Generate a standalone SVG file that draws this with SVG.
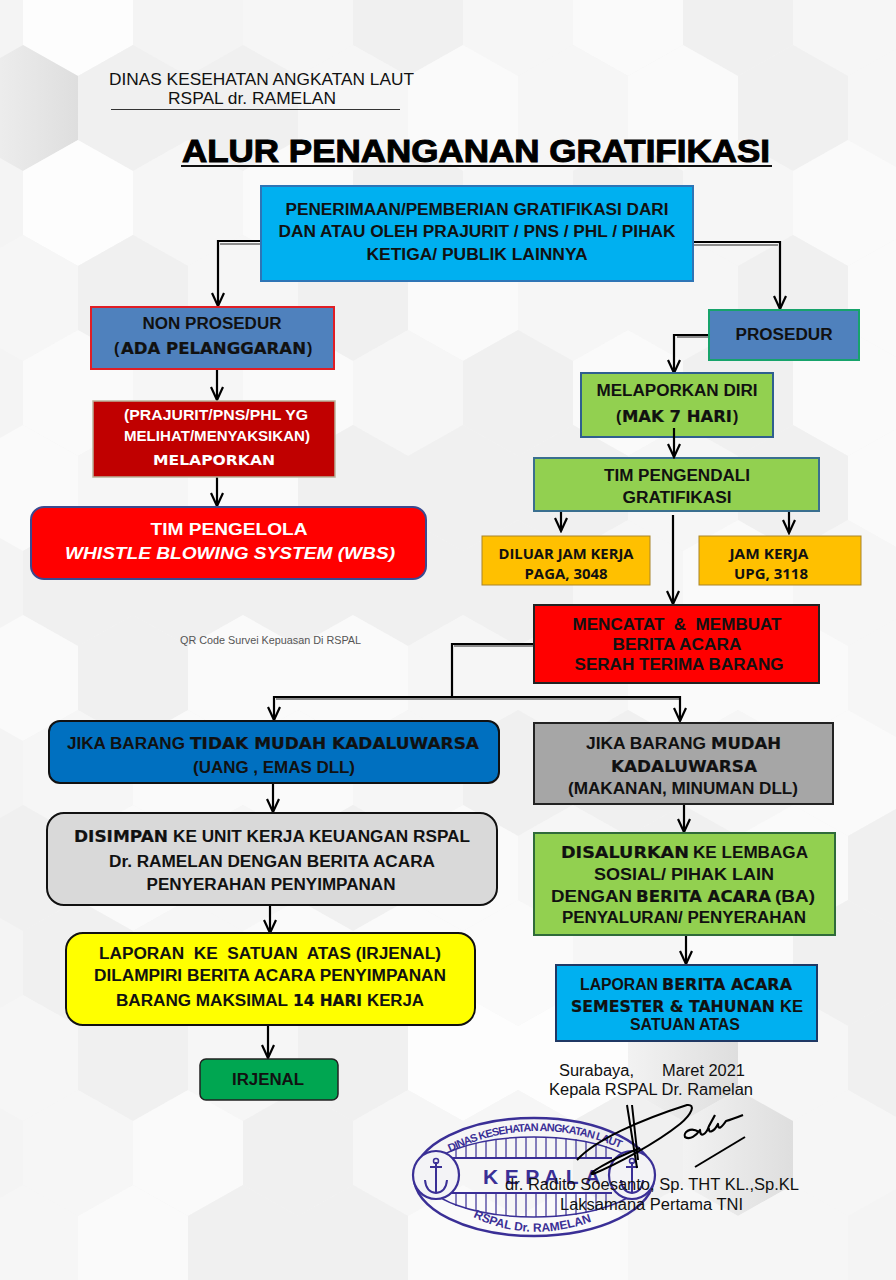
<svg xmlns="http://www.w3.org/2000/svg" width="896" height="1280" viewBox="0 0 896 1280">
<defs>
<linearGradient id="hd" x1="0" y1="0" x2="1" y2="0"><stop offset="0" stop-color="#f2f2f2"/><stop offset="1" stop-color="#dedede"/></linearGradient>
<polygon id="hex" points="0,-63 55,-32 55,32 0,63 -55,32 -55,-32"/>
<marker id="ah" markerUnits="userSpaceOnUse" markerWidth="16" markerHeight="14" refX="14" refY="7" orient="auto"><path d="M1,1 L14,7 L1,13" fill="none" stroke="#000" stroke-width="2.200"/></marker>
</defs>
<style>
text{font-family:"Liberation Sans",Arial,sans-serif;fill:#111}
.b{font-weight:700;font-size:16px;text-anchor:middle}
.bs{font-weight:700;font-size:16px}
.x{font-family:"DejaVu Sans",sans-serif;font-weight:700;font-size:15px;stroke:#111;stroke-width:.2px}
.c{font-family:"Open Sans","Noto Sans",sans-serif;font-weight:700;font-size:15px;text-anchor:middle}
.n{font-size:16px}
.l{fill:none;stroke:#000;stroke-width:2.200}
.s{fill:none;stroke:#8c8c8c;stroke-width:2}
.st{fill:none;stroke:#3a2f96}
.stx{fill:#3a2f96;font-weight:700;font-size:11px}
.a{fill:#fafafa}.p{fill:#f6f6f6}.d{fill:#f0f0f0}.e{fill:url(#hd)}
.w{fill:#fdfdfd}
</style>
<rect width="896" height="1280" fill="#f4f4f4"/>
<g id="background">
<use href="#hex" x="78" y="13" class="w"/><use href="#hex" x="298" y="13" class="p"/><use href="#hex" x="408" y="13" class="d"/><use href="#hex" x="518" y="13" class="p"/><use href="#hex" x="628" y="13" class="a"/><use href="#hex" x="738" y="13" class="d"/><use href="#hex" x="848" y="13" class="p"/>
<use href="#hex" x="23" y="108" class="e"/><use href="#hex" x="133" y="108" class="d"/><use href="#hex" x="243" y="108" class="d"/><use href="#hex" x="353" y="108" class="p"/><use href="#hex" x="463" y="108" class="a"/><use href="#hex" x="573" y="108" class="p"/><use href="#hex" x="683" y="108" class="a"/><use href="#hex" x="793" y="108" class="d"/><use href="#hex" x="903" y="108" class="p"/>
<use href="#hex" x="78" y="203" class="w"/><use href="#hex" x="188" y="203" class="p"/><use href="#hex" x="298" y="203" class="a"/><use href="#hex" x="408" y="203" class="d"/><use href="#hex" x="518" y="203" class="p"/><use href="#hex" x="628" y="203" class="d"/><use href="#hex" x="738" y="203" class="p"/><use href="#hex" x="848" y="203" class="a"/>
<use href="#hex" x="23" y="298" class="p"/><use href="#hex" x="133" y="298" class="d"/><use href="#hex" x="243" y="298" class="p"/><use href="#hex" x="353" y="298" class="d"/><use href="#hex" x="463" y="298" class="a"/><use href="#hex" x="573" y="298" class="p"/><use href="#hex" x="683" y="298" class="p"/><use href="#hex" x="793" y="298" class="d"/><use href="#hex" x="903" y="298" class="a"/>
<use href="#hex" x="78" y="393" class="a"/><use href="#hex" x="188" y="393" class="p"/><use href="#hex" x="298" y="393" class="a"/><use href="#hex" x="408" y="393" class="p"/><use href="#hex" x="518" y="393" class="d"/><use href="#hex" x="628" y="393" class="a"/><use href="#hex" x="738" y="393" class="d"/><use href="#hex" x="848" y="393" class="a"/>
<use href="#hex" x="23" y="488" class="a"/><use href="#hex" x="133" y="488" class="p"/><use href="#hex" x="243" y="488" class="a"/><use href="#hex" x="353" y="488" class="d"/><use href="#hex" x="463" y="488" class="d"/><use href="#hex" x="573" y="488" class="d"/><use href="#hex" x="683" y="488" class="p"/><use href="#hex" x="793" y="488" class="d"/><use href="#hex" x="903" y="488" class="a"/>
<use href="#hex" x="78" y="583" class="d"/><use href="#hex" x="188" y="583" class="d"/><use href="#hex" x="298" y="583" class="d"/><use href="#hex" x="408" y="583" class="d"/><use href="#hex" x="518" y="583" class="d"/><use href="#hex" x="628" y="583" class="p"/><use href="#hex" x="738" y="583" class="a"/><use href="#hex" x="848" y="583" class="p"/>
<use href="#hex" x="23" y="678" class="a"/><use href="#hex" x="133" y="678" class="d"/><use href="#hex" x="243" y="678" class="a"/><use href="#hex" x="353" y="678" class="a"/><use href="#hex" x="463" y="678" class="p"/><use href="#hex" x="573" y="678" class="p"/><use href="#hex" x="683" y="678" class="a"/><use href="#hex" x="793" y="678" class="a"/><use href="#hex" x="903" y="678" class="p"/>
<use href="#hex" x="78" y="773" class="p"/><use href="#hex" x="188" y="773" class="a"/><use href="#hex" x="298" y="773" class="a"/><use href="#hex" x="408" y="773" class="p"/><use href="#hex" x="518" y="773" class="d"/><use href="#hex" x="628" y="773" class="d"/><use href="#hex" x="738" y="773" class="p"/><use href="#hex" x="848" y="773" class="a"/>
<use href="#hex" x="23" y="868" class="d"/><use href="#hex" x="133" y="868" class="a"/><use href="#hex" x="243" y="868" class="p"/><use href="#hex" x="353" y="868" class="d"/><use href="#hex" x="463" y="868" class="a"/><use href="#hex" x="573" y="868" class="p"/><use href="#hex" x="683" y="868" class="d"/><use href="#hex" x="793" y="868" class="a"/><use href="#hex" x="903" y="868" class="d"/>
<use href="#hex" x="78" y="963" class="d"/><use href="#hex" x="188" y="963" class="p"/><use href="#hex" x="298" y="963" class="a"/><use href="#hex" x="408" y="963" class="a"/><use href="#hex" x="518" y="963" class="a"/><use href="#hex" x="628" y="963" class="p"/><use href="#hex" x="738" y="963" class="a"/><use href="#hex" x="848" y="963" class="d"/>
<use href="#hex" x="23" y="1058" class="p"/><use href="#hex" x="133" y="1058" class="d"/><use href="#hex" x="243" y="1058" class="p"/><use href="#hex" x="353" y="1058" class="d"/><use href="#hex" x="463" y="1058" class="w"/><use href="#hex" x="573" y="1058" class="w"/><use href="#hex" x="683" y="1058" class="e"/><use href="#hex" x="793" y="1058" class="p"/><use href="#hex" x="903" y="1058" class="d"/>
<use href="#hex" x="78" y="1153" class="p"/><use href="#hex" x="188" y="1153" class="a"/><use href="#hex" x="298" y="1153" class="d"/><use href="#hex" x="408" y="1153" class="p"/><use href="#hex" x="518" y="1153" class="p"/><use href="#hex" x="628" y="1153" class="d"/><use href="#hex" x="738" y="1153" class="e"/><use href="#hex" x="848" y="1153" class="p"/>
<use href="#hex" x="23" y="1248" class="p"/><use href="#hex" x="133" y="1248" class="a"/><use href="#hex" x="243" y="1248" class="d"/><use href="#hex" x="353" y="1248" class="d"/><use href="#hex" x="463" y="1248" class="a"/><use href="#hex" x="573" y="1248" class="a"/><use href="#hex" x="683" y="1248" class="p"/><use href="#hex" x="793" y="1248" class="p"/>
</g>
<g id="header">
<text x="109" y="85" font-size="16.500" textLength="305" lengthAdjust="spacingAndGlyphs">DINAS KESEHATAN ANGKATAN LAUT</text>
<text x="168" y="104" font-size="16.500" textLength="168" lengthAdjust="spacingAndGlyphs">RSPAL dr. RAMELAN</text>
<line x1="111" y1="109.500" x2="400" y2="109.500" stroke="#333" stroke-width="1"/>
<text id="title" x="182" y="162" textLength="588" lengthAdjust="spacingAndGlyphs" style="font-weight:700;font-size:32px;fill:#000;stroke:#000;stroke-width:1px">ALUR PENANGANAN GRATIFIKASI</text>
<line x1="181" y1="166" x2="772" y2="166" stroke="#111" stroke-width="2.200"/>
<text x="180" y="644" font-size="10.500" textLength="181" lengthAdjust="spacingAndGlyphs" style="fill:#555">QR Code Survei Kepuasan Di RSPAL</text>
</g>
<g id="connectors">
<path class="s" d="M261,244 H220 M693,245 H778 M709,337 H677 M534,646 H454 M276,699 H679"/>
<path class="l" d="M261,241 H218 V306" marker-end="url(#ah)"/>
<path class="l" d="M693,242 H780 V309" marker-end="url(#ah)"/>
<path class="l" d="M708,335 H674 V373" marker-end="url(#ah)"/>
<path class="l" d="M561,505 V531" marker-end="url(#ah)"/>
<path class="l" d="M789,512 V533" marker-end="url(#ah)"/>
<path class="l" d="M673,515 V604" marker-end="url(#ah)"/>
<path class="l" d="M217,369 V400" marker-end="url(#ah)"/>
<path class="l" d="M217,477 V506" marker-end="url(#ah)"/>
<path class="l" d="M534,644 H452 V698"/>
<path class="l" d="M274,697 H680 V721" marker-end="url(#ah)"/>
<path class="l" d="M274,696 V720" marker-end="url(#ah)"/>
<path class="l" d="M273,783 V812" marker-end="url(#ah)"/>
<path class="l" d="M270,906 V933" marker-end="url(#ah)"/>
<path class="l" d="M268,1026 V1058" marker-end="url(#ah)"/>
<path class="l" d="M684,805 V832" marker-end="url(#ah)"/>
<path class="l" d="M686,935 V964" marker-end="url(#ah)"/>
</g>
<g id="n-top"><rect x="261" y="186" width="432" height="95" fill="#00b0f0" stroke="#2e75b6" stroke-width="2"/>
<text class="b" x="477" y="215" textLength="383" lengthAdjust="spacingAndGlyphs">PENERIMAAN/PEMBERIAN GRATIFIKASI DARI</text>
<text class="b" x="477" y="237" textLength="397" lengthAdjust="spacingAndGlyphs">DAN ATAU OLEH PRAJURIT / PNS / PHL / PIHAK</text>
<text class="b" x="477" y="260" textLength="221" lengthAdjust="spacingAndGlyphs">KETIGA/ PUBLIK LAINNYA</text></g>
<g id="n-nonprosedur"><rect x="91" y="307" width="243" height="62" fill="#4f81bd" stroke="#e01e25" stroke-width="2"/>
<text class="b" x="212" y="329" textLength="139" lengthAdjust="spacingAndGlyphs">NON PROSEDUR</text>
<text class="bs" x="114" y="354">(</text><text class="x" x="121" y="354" textLength="185" lengthAdjust="spacingAndGlyphs">ADA PELANGGARAN</text><text class="bs" x="307" y="354">)</text></g>
<g id="n-melaporkan"><rect x="93" y="401" width="242" height="76" fill="#c00000" stroke="#b9b39a" stroke-width="1.500"/>
<text class="b" x="216" y="420" style="fill:#fff;font-size:14px" textLength="184" lengthAdjust="spacingAndGlyphs">(PRAJURIT/PNS/PHL YG</text>
<text class="b" x="217" y="441" style="fill:#fff;font-size:14px" textLength="186" lengthAdjust="spacingAndGlyphs">MELIHAT/MENYAKSIKAN)</text>
<text x="153" y="465" textLength="122" lengthAdjust="spacingAndGlyphs" style="font-family:'DejaVu Sans',sans-serif;font-weight:700;font-size:14px;fill:#fff">MELAPORKAN</text></g>
<g id="n-wbs"><rect x="31" y="507" width="395" height="72" rx="13" fill="#ff0000" stroke="#3b4a8f" stroke-width="2"/>
<text class="b" x="229" y="535" style="fill:#fff" textLength="157" lengthAdjust="spacingAndGlyphs">TIM PENGELOLA</text>
<text class="b" x="230" y="559" style="fill:#fff;font-style:italic" textLength="330" lengthAdjust="spacingAndGlyphs">WHISTLE BLOWING SYSTEM (WBS)</text></g>
<g id="n-prosedur"><rect x="709" y="310" width="150" height="50" fill="#4f81bd" stroke="#17a36b" stroke-width="2"/>
<text class="b" x="784" y="340" textLength="97" lengthAdjust="spacingAndGlyphs">PROSEDUR</text></g>
<g id="n-diri"><rect x="581" y="373" width="192" height="64" fill="#92d050" stroke="#2f5f8f" stroke-width="2"/>
<text class="b" x="677" y="396" textLength="161" lengthAdjust="spacingAndGlyphs">MELAPORKAN DIRI</text>
<text class="bs" x="616" y="422">(</text><text class="x" x="622" y="422" textLength="110" lengthAdjust="spacingAndGlyphs">MAK 7 HARI</text><text class="bs" x="733" y="422">)</text></g>
<g id="n-tim"><rect x="534" y="458" width="285" height="53" fill="#92d050" stroke="#3a6f8f" stroke-width="2"/>
<text class="b" x="677" y="481" textLength="146" lengthAdjust="spacingAndGlyphs">TIM PENGENDALI</text>
<text class="b" x="677" y="503" textLength="109" lengthAdjust="spacingAndGlyphs">GRATIFIKASI</text></g>
<path class="l" d="M674,428 V457" marker-end="url(#ah)"/>
<g id="n-diluar"><rect x="482" y="536" width="168" height="49" fill="#ffc000" stroke="#a8842a" stroke-width="1"/>
<text class="c" x="566" y="559" textLength="135" lengthAdjust="spacingAndGlyphs">DILUAR JAM KERJA</text>
<text class="c" x="566" y="579" textLength="83" lengthAdjust="spacingAndGlyphs">PAGA, 3048</text></g>
<g id="n-jam"><rect x="699" y="536" width="162" height="49" fill="#ffc000" stroke="#a8842a" stroke-width="1"/>
<text class="c" x="769" y="559" textLength="79" lengthAdjust="spacingAndGlyphs">JAM KERJA</text>
<text class="c" x="771" y="579" textLength="74" lengthAdjust="spacingAndGlyphs">UPG, 3118</text></g>
<g id="n-mencatat"><rect x="534" y="605" width="285" height="78" fill="#ff0000" stroke="#222" stroke-width="2"/>
<text class="b" x="677" y="630" textLength="209" lengthAdjust="spacingAndGlyphs" xml:space="preserve">MENCATAT  &amp;  MEMBUAT</text>
<text class="b" x="677" y="650" textLength="129" lengthAdjust="spacingAndGlyphs">BERITA ACARA</text>
<text class="b" x="679" y="670" textLength="209" lengthAdjust="spacingAndGlyphs">SERAH TERIMA BARANG</text></g>
<g id="n-tidak"><rect x="49" y="721" width="450" height="62" rx="11" fill="#0070c0" stroke="#111" stroke-width="2"/>
<text class="bs" x="67" y="749" textLength="118" lengthAdjust="spacingAndGlyphs">JIKA BARANG</text>
<text class="x" x="190" y="749" textLength="289" lengthAdjust="spacingAndGlyphs">TIDAK MUDAH KADALUWARSA</text>
<text class="b" x="274" y="773" textLength="162" lengthAdjust="spacingAndGlyphs">(UANG , EMAS DLL)</text></g>
<g id="n-disimpan"><rect x="47" y="813" width="450" height="92" rx="17" fill="#d9d9d9" stroke="#111" stroke-width="2"/>
<text class="x" x="74" y="842" textLength="94" lengthAdjust="spacingAndGlyphs">DISIMPAN</text>
<text class="bs" x="173" y="842" textLength="297" lengthAdjust="spacingAndGlyphs">KE UNIT KERJA KEUANGAN RSPAL</text>
<text class="b" x="272" y="867" textLength="326" lengthAdjust="spacingAndGlyphs">Dr. RAMELAN DENGAN BERITA ACARA</text>
<text class="b" x="271" y="890" textLength="249" lengthAdjust="spacingAndGlyphs">PENYERAHAN PENYIMPANAN</text></g>
<g id="n-laporan"><rect x="66" y="933" width="409" height="92" rx="17" fill="#ffff00" stroke="#111" stroke-width="2"/>
<text class="b" x="270" y="959" textLength="342" lengthAdjust="spacingAndGlyphs" xml:space="preserve">LAPORAN  KE  SATUAN  ATAS (IRJENAL)</text>
<text class="b" x="270" y="981" textLength="352" lengthAdjust="spacingAndGlyphs">DILAMPIRI BERITA ACARA PENYIMPANAN</text>
<text class="bs" x="116" y="1006" textLength="172" lengthAdjust="spacingAndGlyphs">BARANG MAKSIMAL</text>
<text class="x" x="293" y="1006" textLength="69" lengthAdjust="spacingAndGlyphs">14 HARI</text>
<text class="bs" x="367" y="1006" textLength="57" lengthAdjust="spacingAndGlyphs">KERJA</text></g>
<g id="n-irjenal"><rect x="200" y="1059" width="138" height="41" rx="6" fill="#00a651" stroke="#222" stroke-width="1.500"/>
<text class="b" x="268" y="1085" textLength="72" lengthAdjust="spacingAndGlyphs">IRJENAL</text></g>
<g id="n-mudah"><rect x="534" y="723" width="299" height="81" fill="#a6a6a6" stroke="#222" stroke-width="2"/>
<text class="bs" x="586" y="749" textLength="120" lengthAdjust="spacingAndGlyphs">JIKA BARANG</text>
<text class="x" x="711" y="749" textLength="70" lengthAdjust="spacingAndGlyphs">MUDAH</text>
<text class="x" x="611" y="772" textLength="146" lengthAdjust="spacingAndGlyphs">KADALUWARSA</text>
<text class="b" x="683" y="794" textLength="230" lengthAdjust="spacingAndGlyphs">(MAKANAN, MINUMAN DLL)</text></g>
<g id="n-disalurkan"><rect x="534" y="833" width="301" height="102" fill="#92d050" stroke="#2f6b3a" stroke-width="2"/>
<text class="x" x="561" y="858" textLength="128" lengthAdjust="spacingAndGlyphs">DISALURKAN</text>
<text class="bs" x="693" y="858" textLength="115" lengthAdjust="spacingAndGlyphs">KE LEMBAGA</text>
<text class="b" x="684" y="880" textLength="180" lengthAdjust="spacingAndGlyphs">SOSIAL/ PIHAK LAIN</text>
<text class="bs" x="551" y="902" textLength="81" lengthAdjust="spacingAndGlyphs">DENGAN</text>
<text class="x" x="636" y="902" textLength="135" lengthAdjust="spacingAndGlyphs">BERITA ACARA</text>
<text class="bs" x="775" y="902" textLength="40" lengthAdjust="spacingAndGlyphs">(BA)</text>
<text class="b" x="684" y="923" textLength="244" lengthAdjust="spacingAndGlyphs">PENYALURAN/ PENYERAHAN</text></g>
<g id="n-semester"><rect x="556" y="965" width="261" height="76" fill="#00b0f0" stroke="#1f3864" stroke-width="2"/>
<text class="bs" x="580" y="990" textLength="78" lengthAdjust="spacingAndGlyphs">LAPORAN</text>
<text class="x" x="662" y="990" textLength="130" lengthAdjust="spacingAndGlyphs">BERITA ACARA</text>
<text class="x" x="571" y="1012" textLength="204" lengthAdjust="spacingAndGlyphs">SEMESTER &amp; TAHUNAN</text>
<text class="bs" x="780" y="1012" textLength="23" lengthAdjust="spacingAndGlyphs">KE</text>
<text class="b" x="685" y="1030" textLength="110" lengthAdjust="spacingAndGlyphs">SATUAN ATAS</text></g>
<g id="stamp">
<ellipse cx="534" cy="1177" rx="120" ry="59" class="st" stroke-width="2.500"/>
<ellipse cx="534" cy="1177" rx="109" ry="40" class="st" stroke-width="1.500"/>
<path class="st" stroke-width="1.200" d="M456,1158 V1149 M466,1158 V1146 M476,1158 V1143 M486,1158 V1141 M496,1158 V1139 M506,1158 V1138 M516,1158 V1137 M526,1158 V1137 M536,1158 V1137 M546,1158 V1137 M556,1158 V1137 M566,1158 V1138 M576,1158 V1139 M586,1158 V1141 M596,1158 V1143 M606,1158 V1146 M456,1193 V1206 M466,1193 V1209 M476,1193 V1211 M486,1193 V1213 M496,1193 V1215 M506,1193 V1216 M516,1193 V1217 M526,1193 V1217 M536,1193 V1217 M546,1193 V1217 M556,1193 V1217 M566,1193 V1216 M576,1193 V1215 M586,1193 V1213 M596,1193 V1211 M606,1193 V1208"/>
<path class="st" stroke-width="2" d="M450,1158 H612 M450,1193 H612"/>
<ellipse cx="436" cy="1175" rx="23" ry="24" class="st" stroke-width="2.200" style="fill:#f3f3f6"/>
<ellipse cx="632" cy="1175" rx="23" ry="24" class="st" stroke-width="2.200" style="fill:#f3f3f6"/>
<path class="st" stroke-width="2" d="M436,1162 V1192 M430,1167 H442 M425,1180 Q426,1192 436,1193 Q446,1192 447,1180"/>
<circle cx="436" cy="1161" r="2.500" class="st" stroke-width="1.500"/>
<path class="st" stroke-width="2" d="M632,1162 V1192 M626,1167 H638 M621,1180 Q622,1192 632,1193 Q642,1192 643,1180"/>
<circle cx="632" cy="1161" r="2.500" class="st" stroke-width="1.500"/>
<path id="arcT" d="M450,1152 Q532,1112 620,1148" fill="none"/>
<path id="arcB" d="M473,1217 Q530,1245 596,1220" fill="none"/>
<text class="stx" textLength="176"><textPath href="#arcT">DINAS KESEHATAN ANGKATAN LAUT</textPath></text>
<text class="stx" style="font-size:12px"><textPath href="#arcB">RSPAL Dr. RAMELAN</textPath></text>
<text x="483" y="1184" font-weight="700" font-size="21" letter-spacing="6.500" style="fill:#3a2f96">KEPALA</text>
</g>
<g id="signature">
<path fill="none" stroke="#000" stroke-width="2" stroke-linejoin="round" d="M627,1105 L637,1168 M632,1105 L638,1160 M577,1160 C595,1140 640,1120 687,1105 C696,1104 692,1114 680,1124 C655,1144 615,1165 593,1174 C585,1175 610,1160 640,1148"/>
<path fill="none" stroke="#000" stroke-width="2.200" stroke-linejoin="round" d="M699,1132 C690,1126 683,1133 685,1137 C690,1140 696,1136 700,1130 C700,1138 706,1135 709,1126 L715,1115 M709,1128 C708,1134 714,1132 718,1124 C718,1131 722,1127 726,1121 C730,1120 738,1117 743,1115"/>
<line x1="695" y1="1167" x2="745" y2="1137" stroke="#000" stroke-width="2"/>
</g>
<g id="sign-text">
<text class="n" x="559" y="1076" textLength="75" lengthAdjust="spacingAndGlyphs">Surabaya,</text>
<text class="n" x="662" y="1076" textLength="83" lengthAdjust="spacingAndGlyphs">Maret 2021</text>
<text class="n" x="549" y="1095" textLength="204" lengthAdjust="spacingAndGlyphs">Kepala RSPAL Dr. Ramelan</text>
<text class="n" x="505" y="1190" textLength="294" lengthAdjust="spacingAndGlyphs">dr. Radito Soesanto, Sp. THT KL.,Sp.KL</text>
<text class="n" x="560" y="1210" textLength="183" lengthAdjust="spacingAndGlyphs">Laksamana Pertama TNI</text>
</g>
</svg>
